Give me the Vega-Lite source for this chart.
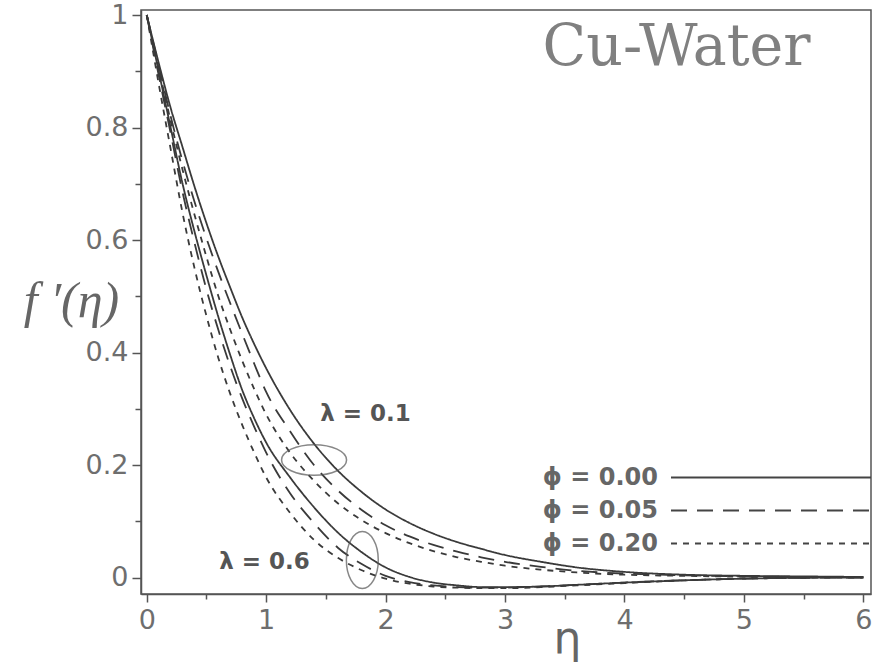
{
  "$schema": "https://vega.github.io/schema/vega-lite/v6.json",
  "width": 730,
  "height": 584,
  "autosize": {"type": "none"},
  "padding": {"left": 141, "top": 10, "right": 5, "bottom": 78},
  "background": "white",
  "config": {
    "view": {"stroke": "#555555", "strokeWidth": 1.5},
    "axis": {
      "grid": false,
      "domainColor": "#555555",
      "domainWidth": 1.5,
      "tickColor": "#555555",
      "tickWidth": 1.5,
      "labelFont": "DejaVu Sans",
      "labelFontSize": 27,
      "labelColor": "#6e6e6e"
    }
  },
  "datasets": {
    "curves": [
      {"eta":0,"f":1,"lambda":"0.1","phi":"ϕ = 0.00"},{"eta":0.1,"f":0.915,"lambda":"0.1","phi":"ϕ = 0.00"},{"eta":0.2,"f":0.835,"lambda":"0.1","phi":"ϕ = 0.00"},{"eta":0.3,"f":0.765,"lambda":"0.1","phi":"ϕ = 0.00"},{"eta":0.4,"f":0.695,"lambda":"0.1","phi":"ϕ = 0.00"},{"eta":0.5,"f":0.63,"lambda":"0.1","phi":"ϕ = 0.00"},{"eta":0.6,"f":0.57,"lambda":"0.1","phi":"ϕ = 0.00"},{"eta":0.7,"f":0.515,"lambda":"0.1","phi":"ϕ = 0.00"},{"eta":0.8,"f":0.462,"lambda":"0.1","phi":"ϕ = 0.00"},{"eta":0.9,"f":0.415,"lambda":"0.1","phi":"ϕ = 0.00"},{"eta":1.0,"f":0.372,"lambda":"0.1","phi":"ϕ = 0.00"},{"eta":1.2,"f":0.298,"lambda":"0.1","phi":"ϕ = 0.00"},{"eta":1.4,"f":0.238,"lambda":"0.1","phi":"ϕ = 0.00"},{"eta":1.6,"f":0.19,"lambda":"0.1","phi":"ϕ = 0.00"},{"eta":1.8,"f":0.152,"lambda":"0.1","phi":"ϕ = 0.00"},{"eta":2.0,"f":0.121,"lambda":"0.1","phi":"ϕ = 0.00"},{"eta":2.2,"f":0.097,"lambda":"0.1","phi":"ϕ = 0.00"},{"eta":2.4,"f":0.078,"lambda":"0.1","phi":"ϕ = 0.00"},{"eta":2.6,"f":0.063,"lambda":"0.1","phi":"ϕ = 0.00"},{"eta":2.8,"f":0.051,"lambda":"0.1","phi":"ϕ = 0.00"},{"eta":3.0,"f":0.04,"lambda":"0.1","phi":"ϕ = 0.00"},{"eta":3.3,"f":0.028,"lambda":"0.1","phi":"ϕ = 0.00"},{"eta":3.6,"f":0.018,"lambda":"0.1","phi":"ϕ = 0.00"},{"eta":4.0,"f":0.01,"lambda":"0.1","phi":"ϕ = 0.00"},{"eta":4.5,"f":0.005,"lambda":"0.1","phi":"ϕ = 0.00"},{"eta":5.0,"f":0.003,"lambda":"0.1","phi":"ϕ = 0.00"},{"eta":5.5,"f":0.002,"lambda":"0.1","phi":"ϕ = 0.00"},{"eta":6.0,"f":0.001,"lambda":"0.1","phi":"ϕ = 0.00"},

      {"eta":0,"f":1,"lambda":"0.1","phi":"ϕ = 0.05"},{"eta":0.1,"f":0.91,"lambda":"0.1","phi":"ϕ = 0.05"},{"eta":0.2,"f":0.82,"lambda":"0.1","phi":"ϕ = 0.05"},{"eta":0.3,"f":0.74,"lambda":"0.1","phi":"ϕ = 0.05"},{"eta":0.4,"f":0.668,"lambda":"0.1","phi":"ϕ = 0.05"},{"eta":0.5,"f":0.603,"lambda":"0.1","phi":"ϕ = 0.05"},{"eta":0.6,"f":0.543,"lambda":"0.1","phi":"ϕ = 0.05"},{"eta":0.7,"f":0.487,"lambda":"0.1","phi":"ϕ = 0.05"},{"eta":0.8,"f":0.433,"lambda":"0.1","phi":"ϕ = 0.05"},{"eta":0.9,"f":0.38,"lambda":"0.1","phi":"ϕ = 0.05"},{"eta":1.0,"f":0.33,"lambda":"0.1","phi":"ϕ = 0.05"},{"eta":1.2,"f":0.26,"lambda":"0.1","phi":"ϕ = 0.05"},{"eta":1.4,"f":0.2,"lambda":"0.1","phi":"ϕ = 0.05"},{"eta":1.6,"f":0.155,"lambda":"0.1","phi":"ϕ = 0.05"},{"eta":1.8,"f":0.12,"lambda":"0.1","phi":"ϕ = 0.05"},{"eta":2.0,"f":0.093,"lambda":"0.1","phi":"ϕ = 0.05"},{"eta":2.2,"f":0.073,"lambda":"0.1","phi":"ϕ = 0.05"},{"eta":2.4,"f":0.058,"lambda":"0.1","phi":"ϕ = 0.05"},{"eta":2.6,"f":0.046,"lambda":"0.1","phi":"ϕ = 0.05"},{"eta":2.8,"f":0.036,"lambda":"0.1","phi":"ϕ = 0.05"},{"eta":3.0,"f":0.028,"lambda":"0.1","phi":"ϕ = 0.05"},{"eta":3.3,"f":0.019,"lambda":"0.1","phi":"ϕ = 0.05"},{"eta":3.6,"f":0.012,"lambda":"0.1","phi":"ϕ = 0.05"},{"eta":4.0,"f":0.007,"lambda":"0.1","phi":"ϕ = 0.05"},{"eta":4.5,"f":0.004,"lambda":"0.1","phi":"ϕ = 0.05"},{"eta":5.0,"f":0.002,"lambda":"0.1","phi":"ϕ = 0.05"},{"eta":5.5,"f":0.001,"lambda":"0.1","phi":"ϕ = 0.05"},{"eta":6.0,"f":0.0005,"lambda":"0.1","phi":"ϕ = 0.05"},

      {"eta":0,"f":1,"lambda":"0.1","phi":"ϕ = 0.20"},{"eta":0.1,"f":0.905,"lambda":"0.1","phi":"ϕ = 0.20"},{"eta":0.2,"f":0.812,"lambda":"0.1","phi":"ϕ = 0.20"},{"eta":0.3,"f":0.725,"lambda":"0.1","phi":"ϕ = 0.20"},{"eta":0.4,"f":0.645,"lambda":"0.1","phi":"ϕ = 0.20"},{"eta":0.5,"f":0.57,"lambda":"0.1","phi":"ϕ = 0.20"},{"eta":0.6,"f":0.5,"lambda":"0.1","phi":"ϕ = 0.20"},{"eta":0.7,"f":0.44,"lambda":"0.1","phi":"ϕ = 0.20"},{"eta":0.8,"f":0.385,"lambda":"0.1","phi":"ϕ = 0.20"},{"eta":0.9,"f":0.335,"lambda":"0.1","phi":"ϕ = 0.20"},{"eta":1.0,"f":0.29,"lambda":"0.1","phi":"ϕ = 0.20"},{"eta":1.2,"f":0.222,"lambda":"0.1","phi":"ϕ = 0.20"},{"eta":1.4,"f":0.172,"lambda":"0.1","phi":"ϕ = 0.20"},{"eta":1.6,"f":0.132,"lambda":"0.1","phi":"ϕ = 0.20"},{"eta":1.8,"f":0.102,"lambda":"0.1","phi":"ϕ = 0.20"},{"eta":2.0,"f":0.079,"lambda":"0.1","phi":"ϕ = 0.20"},{"eta":2.2,"f":0.061,"lambda":"0.1","phi":"ϕ = 0.20"},{"eta":2.4,"f":0.047,"lambda":"0.1","phi":"ϕ = 0.20"},{"eta":2.6,"f":0.036,"lambda":"0.1","phi":"ϕ = 0.20"},{"eta":2.8,"f":0.028,"lambda":"0.1","phi":"ϕ = 0.20"},{"eta":3.0,"f":0.021,"lambda":"0.1","phi":"ϕ = 0.20"},{"eta":3.3,"f":0.014,"lambda":"0.1","phi":"ϕ = 0.20"},{"eta":3.6,"f":0.009,"lambda":"0.1","phi":"ϕ = 0.20"},{"eta":4.0,"f":0.005,"lambda":"0.1","phi":"ϕ = 0.20"},{"eta":4.5,"f":0.003,"lambda":"0.1","phi":"ϕ = 0.20"},{"eta":5.0,"f":0.0015,"lambda":"0.1","phi":"ϕ = 0.20"},{"eta":5.5,"f":0.001,"lambda":"0.1","phi":"ϕ = 0.20"},{"eta":6.0,"f":0.0005,"lambda":"0.1","phi":"ϕ = 0.20"},

      {"eta":0,"f":1,"lambda":"0.6","phi":"ϕ = 0.00"},{"eta":0.1,"f":0.9,"lambda":"0.6","phi":"ϕ = 0.00"},{"eta":0.2,"f":0.8,"lambda":"0.6","phi":"ϕ = 0.00"},{"eta":0.3,"f":0.7,"lambda":"0.6","phi":"ϕ = 0.00"},{"eta":0.4,"f":0.615,"lambda":"0.6","phi":"ϕ = 0.00"},{"eta":0.5,"f":0.537,"lambda":"0.6","phi":"ϕ = 0.00"},{"eta":0.6,"f":0.463,"lambda":"0.6","phi":"ϕ = 0.00"},{"eta":0.7,"f":0.395,"lambda":"0.6","phi":"ϕ = 0.00"},{"eta":0.8,"f":0.333,"lambda":"0.6","phi":"ϕ = 0.00"},{"eta":0.9,"f":0.283,"lambda":"0.6","phi":"ϕ = 0.00"},{"eta":1.0,"f":0.24,"lambda":"0.6","phi":"ϕ = 0.00"},{"eta":1.2,"f":0.178,"lambda":"0.6","phi":"ϕ = 0.00"},{"eta":1.4,"f":0.125,"lambda":"0.6","phi":"ϕ = 0.00"},{"eta":1.6,"f":0.08,"lambda":"0.6","phi":"ϕ = 0.00"},{"eta":1.8,"f":0.045,"lambda":"0.6","phi":"ϕ = 0.00"},{"eta":2.0,"f":0.018,"lambda":"0.6","phi":"ϕ = 0.00"},{"eta":2.2,"f":0.001,"lambda":"0.6","phi":"ϕ = 0.00"},{"eta":2.4,"f":-0.009,"lambda":"0.6","phi":"ϕ = 0.00"},{"eta":2.6,"f":-0.014,"lambda":"0.6","phi":"ϕ = 0.00"},{"eta":2.8,"f":-0.017,"lambda":"0.6","phi":"ϕ = 0.00"},{"eta":3.0,"f":-0.017,"lambda":"0.6","phi":"ϕ = 0.00"},{"eta":3.3,"f":-0.016,"lambda":"0.6","phi":"ϕ = 0.00"},{"eta":3.6,"f":-0.013,"lambda":"0.6","phi":"ϕ = 0.00"},{"eta":4.0,"f":-0.009,"lambda":"0.6","phi":"ϕ = 0.00"},{"eta":4.5,"f":-0.005,"lambda":"0.6","phi":"ϕ = 0.00"},{"eta":5.0,"f":-0.002,"lambda":"0.6","phi":"ϕ = 0.00"},{"eta":5.5,"f":-0.0005,"lambda":"0.6","phi":"ϕ = 0.00"},{"eta":6.0,"f":0,"lambda":"0.6","phi":"ϕ = 0.00"},

      {"eta":0,"f":1,"lambda":"0.6","phi":"ϕ = 0.05"},{"eta":0.1,"f":0.893,"lambda":"0.6","phi":"ϕ = 0.05"},{"eta":0.2,"f":0.79,"lambda":"0.6","phi":"ϕ = 0.05"},{"eta":0.3,"f":0.685,"lambda":"0.6","phi":"ϕ = 0.05"},{"eta":0.4,"f":0.595,"lambda":"0.6","phi":"ϕ = 0.05"},{"eta":0.5,"f":0.512,"lambda":"0.6","phi":"ϕ = 0.05"},{"eta":0.6,"f":0.44,"lambda":"0.6","phi":"ϕ = 0.05"},{"eta":0.7,"f":0.375,"lambda":"0.6","phi":"ϕ = 0.05"},{"eta":0.8,"f":0.318,"lambda":"0.6","phi":"ϕ = 0.05"},{"eta":0.9,"f":0.268,"lambda":"0.6","phi":"ϕ = 0.05"},{"eta":1.0,"f":0.222,"lambda":"0.6","phi":"ϕ = 0.05"},{"eta":1.2,"f":0.15,"lambda":"0.6","phi":"ϕ = 0.05"},{"eta":1.4,"f":0.097,"lambda":"0.6","phi":"ϕ = 0.05"},{"eta":1.6,"f":0.053,"lambda":"0.6","phi":"ϕ = 0.05"},{"eta":1.8,"f":0.024,"lambda":"0.6","phi":"ϕ = 0.05"},{"eta":2.0,"f":0.003,"lambda":"0.6","phi":"ϕ = 0.05"},{"eta":2.2,"f":-0.008,"lambda":"0.6","phi":"ϕ = 0.05"},{"eta":2.4,"f":-0.014,"lambda":"0.6","phi":"ϕ = 0.05"},{"eta":2.6,"f":-0.017,"lambda":"0.6","phi":"ϕ = 0.05"},{"eta":2.8,"f":-0.018,"lambda":"0.6","phi":"ϕ = 0.05"},{"eta":3.0,"f":-0.018,"lambda":"0.6","phi":"ϕ = 0.05"},{"eta":3.3,"f":-0.016,"lambda":"0.6","phi":"ϕ = 0.05"},{"eta":3.6,"f":-0.013,"lambda":"0.6","phi":"ϕ = 0.05"},{"eta":4.0,"f":-0.009,"lambda":"0.6","phi":"ϕ = 0.05"},{"eta":4.5,"f":-0.005,"lambda":"0.6","phi":"ϕ = 0.05"},{"eta":5.0,"f":-0.002,"lambda":"0.6","phi":"ϕ = 0.05"},{"eta":5.5,"f":-0.0005,"lambda":"0.6","phi":"ϕ = 0.05"},{"eta":6.0,"f":0,"lambda":"0.6","phi":"ϕ = 0.05"},

      {"eta":0,"f":1,"lambda":"0.6","phi":"ϕ = 0.20"},{"eta":0.1,"f":0.878,"lambda":"0.6","phi":"ϕ = 0.20"},{"eta":0.2,"f":0.762,"lambda":"0.6","phi":"ϕ = 0.20"},{"eta":0.3,"f":0.648,"lambda":"0.6","phi":"ϕ = 0.20"},{"eta":0.4,"f":0.55,"lambda":"0.6","phi":"ϕ = 0.20"},{"eta":0.5,"f":0.465,"lambda":"0.6","phi":"ϕ = 0.20"},{"eta":0.6,"f":0.39,"lambda":"0.6","phi":"ϕ = 0.20"},{"eta":0.7,"f":0.326,"lambda":"0.6","phi":"ϕ = 0.20"},{"eta":0.8,"f":0.271,"lambda":"0.6","phi":"ϕ = 0.20"},{"eta":0.9,"f":0.222,"lambda":"0.6","phi":"ϕ = 0.20"},{"eta":1.0,"f":0.178,"lambda":"0.6","phi":"ϕ = 0.20"},{"eta":1.2,"f":0.115,"lambda":"0.6","phi":"ϕ = 0.20"},{"eta":1.4,"f":0.067,"lambda":"0.6","phi":"ϕ = 0.20"},{"eta":1.6,"f":0.035,"lambda":"0.6","phi":"ϕ = 0.20"},{"eta":1.8,"f":0.013,"lambda":"0.6","phi":"ϕ = 0.20"},{"eta":2.0,"f":-0.002,"lambda":"0.6","phi":"ϕ = 0.20"},{"eta":2.2,"f":-0.011,"lambda":"0.6","phi":"ϕ = 0.20"},{"eta":2.4,"f":-0.016,"lambda":"0.6","phi":"ϕ = 0.20"},{"eta":2.6,"f":-0.018,"lambda":"0.6","phi":"ϕ = 0.20"},{"eta":2.8,"f":-0.019,"lambda":"0.6","phi":"ϕ = 0.20"},{"eta":3.0,"f":-0.019,"lambda":"0.6","phi":"ϕ = 0.20"},{"eta":3.3,"f":-0.017,"lambda":"0.6","phi":"ϕ = 0.20"},{"eta":3.6,"f":-0.014,"lambda":"0.6","phi":"ϕ = 0.20"},{"eta":4.0,"f":-0.01,"lambda":"0.6","phi":"ϕ = 0.20"},{"eta":4.5,"f":-0.005,"lambda":"0.6","phi":"ϕ = 0.20"},{"eta":5.0,"f":-0.002,"lambda":"0.6","phi":"ϕ = 0.20"},{"eta":5.5,"f":-0.0005,"lambda":"0.6","phi":"ϕ = 0.20"},{"eta":6.0,"f":0,"lambda":"0.6","phi":"ϕ = 0.20"}
    ]
  },
  "layer": [
    {
      "data": {"name": "curves"},
      "mark": {"type": "line", "clip": true, "interpolate": "monotone", "strokeWidth": 1.8, "color": "#3a3a3a"},
      "encoding": {
        "x": {
          "field": "eta", "type": "quantitative",
          "scale": {"domain": [-0.048, 6.064], "nice": false, "zero": false},
          "axis": {
            "values": [0, 0.5, 1, 1.5, 2, 2.5, 3, 3.5, 4, 4.5, 5, 5.5, 6],
            "labelExpr": "datum.value % 1 == 0 ? format(datum.value, 'd') : ''",
            "tickSize": {"condition": {"test": "datum.value % 1 == 0", "value": 8}, "value": 5},
            "labelPadding": 5,
            "title": "η",
            "titleFont": "DejaVu Sans",
            "titleFontSize": 44,
            "titleFontWeight": "normal",
            "titleColor": "#666666",
            "titleX": 426,
            "titleY": 58,
            "titleBaseline": "alphabetic",
            "titleAlign": "center"
          }
        },
        "y": {
          "field": "f", "type": "quantitative",
          "scale": {"domain": [-0.0293, 1.0089], "nice": false, "zero": false},
          "axis": {
            "values": [0, 0.1, 0.2, 0.3, 0.4, 0.5, 0.6, 0.7, 0.8, 0.9, 1],
            "labelExpr": "round(datum.value * 10) % 2 == 0 ? format(datum.value, '.1~f') : ''",
            "tickSize": {"condition": {"test": "round(datum.value * 10) % 2 == 0", "value": 9}, "value": 6},
            "labelPadding": 4,
            "title": "f ′(η)",
            "titleFont": "Liberation Serif",
            "titleFontStyle": "italic",
            "titleFontWeight": "normal",
            "titleFontSize": 50,
            "titleColor": "#666666",
            "titleAngle": 0,
            "titleAlign": "center",
            "titleBaseline": "middle",
            "titleX": -70,
            "titleY": 291
          }
        },
        "detail": {"field": "lambda"},
        "strokeDash": {
          "field": "phi", "type": "nominal",
          "scale": {"domain": ["ϕ = 0.00", "ϕ = 0.05", "ϕ = 0.20"], "range": [[1, 0], [16, 10], [6, 6]]},
          "legend": {
            "orient": "none",
            "legendX": 529,
            "legendY": 451,
            "title": null,
            "padding": 0,
            "clipHeight": 33,
            "rowPadding": 0,
            "symbolType": "stroke",
            "symbolSize": 40000,
            "symbolStrokeWidth": 2,
            "symbolStrokeColor": "#444444",
            "labelFont": "DejaVu Sans",
            "labelFontWeight": "bold",
            "labelFontSize": 24,
            "labelColor": "#666666",
            "labelLimit": 300,
            "encode": {
              "entries": {"update": {"width": {"value": 205}, "height": {"value": 33}}},
              "labels": {"update": {"x": {"value": -12}, "align": {"value": "right"}}},
              "symbols": {"update": {"x": {"value": 101}, "stroke": {"value": "#444444"}, "strokeWidth": {"value": 2}}}
            }
          }
        }
      }
    },
    {
      "data": {"values": [{"eta": 1.401, "f": 0.209}]},
      "mark": {"type": "point", "filled": false, "shape": "M-1,0A1,0.47 0 1,0 1,0A1,0.47 0 1,0 -1,0Z", "size": 4225, "stroke": "#555555", "strokeWidth": 1.5},
      "encoding": {"x": {"field": "eta", "type": "quantitative"}, "y": {"field": "f", "type": "quantitative"}}
    },
    {
      "data": {"values": [{"eta": 1.805, "f": 0.031}]},
      "mark": {"type": "point", "filled": false, "shape": "M0,-1A0.56,1 0 1,0 0,1A0.56,1 0 1,0 0,-1Z", "size": 3249, "stroke": "#555555", "strokeWidth": 1.5},
      "encoding": {"x": {"field": "eta", "type": "quantitative"}, "y": {"field": "f", "type": "quantitative"}}
    },
    {
      "data": {"values": [{"eta": 1.832, "f": 0.29, "label": "λ = 0.1"}, {"eta": 0.986, "f": 0.0276, "label": "λ = 0.6"}]},
      "mark": {"type": "text", "font": "DejaVu Sans", "fontWeight": "bold", "fontSize": 23, "color": "#555555", "align": "center", "baseline": "middle"},
      "encoding": {"x": {"field": "eta", "type": "quantitative"}, "y": {"field": "f", "type": "quantitative"}, "text": {"field": "label"}}
    },
    {
      "data": {"values": [{"eta": 4.436, "f": 0.911, "label": "Cu-Water"}]},
      "mark": {"type": "text", "font": "DejaVu Serif", "fontSize": 57, "color": "#808080", "align": "center", "baseline": "alphabetic"},
      "encoding": {"x": {"field": "eta", "type": "quantitative"}, "y": {"field": "f", "type": "quantitative"}, "text": {"field": "label"}}
    }
  ]
}
